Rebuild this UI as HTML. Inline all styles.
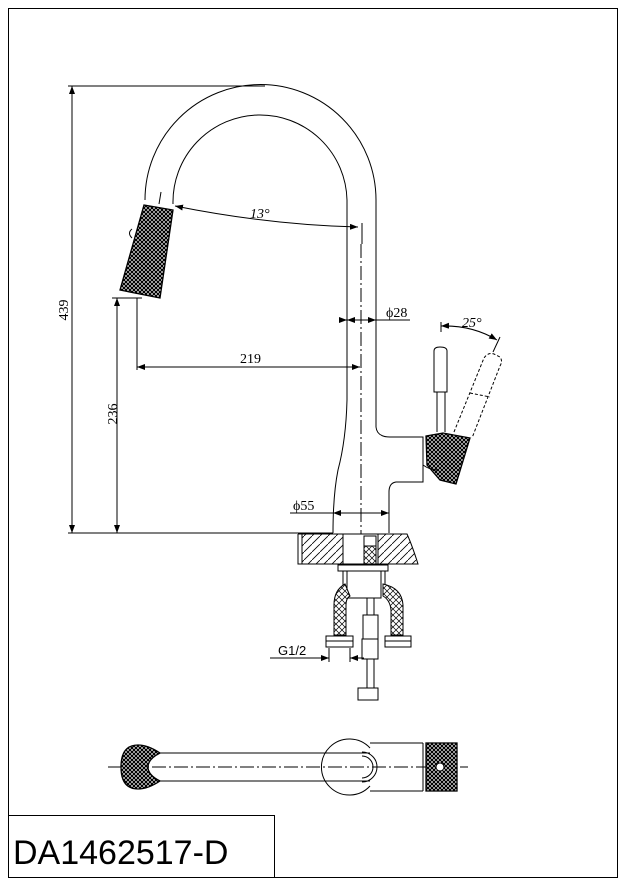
<!DOCTYPE html>
<html><head><meta charset="utf-8"><style>
html,body{margin:0;padding:0;background:#fff}
svg{display:block}
text{font-family:"Liberation Serif",serif;fill:#000}
</style></head><body>
<svg width="626" height="886" viewBox="0 0 626 886" xmlns="http://www.w3.org/2000/svg">
<defs>
<pattern id="kn" width="4" height="4" patternUnits="userSpaceOnUse">
<rect width="4" height="4" fill="#fff"/>
<path d="M0 0L4 4M4 0L0 4" stroke="#000" stroke-width="1.3"/>
</pattern>
<pattern id="hx" width="8" height="8" patternUnits="userSpaceOnUse">
<rect width="8" height="8" fill="#fff"/>
<path d="M0 8L8 0" stroke="#000" stroke-width="0.8"/>
</pattern>
<pattern id="hs" width="6" height="6" patternUnits="userSpaceOnUse">
<rect width="6" height="6" fill="#fff"/>
<path d="M0 0L6 6M6 0L0 6" stroke="#000" stroke-width="0.7"/>
</pattern>
<marker id="a" markerWidth="8" markerHeight="6" refX="8" refY="3" orient="auto-start-reverse" markerUnits="userSpaceOnUse"><path d="M0 0L8 3L0 6z" fill="#000"/></marker>
</defs>
<g fill="none" stroke="#000" stroke-width="1">
<rect x="8.5" y="8.5" width="609" height="869"/>
<rect x="8.5" y="815.5" width="266" height="62"/>
<path d="M145 200 A115 115 0 0 1 376 200 L376 427 Q377 437 390 437 L423 437 L423 482 L396 482 Q389 483 389 492 L389 533"/>
<path d="M173 204 A87 87 0 0 1 347 200 L347 400 Q346 440 338 470 Q333 495 333 533"/>
<polygon points="144,205 173,210 160,298 120,290" fill="url(#kn)" stroke-width="1.3"/>
<path d="M132 229 q-5 4 0 9"/>
<path d="M175 206 Q270 225 358 227" marker-start="url(#a)" marker-end="url(#a)"/>
<line x1="161" y1="192" x2="159" y2="204"/>
<line x1="362" y1="223" x2="362" y2="244"/>
<line x1="361" y1="244" x2="361" y2="565" stroke-dasharray="14 3 2 3"/>
<line x1="68" y1="86" x2="265" y2="86"/>
<line x1="68" y1="533" x2="333" y2="533"/>
<line x1="72" y1="86" x2="72" y2="533" marker-start="url(#a)" marker-end="url(#a)"/>
<line x1="112" y1="298" x2="142" y2="298"/>
<line x1="117" y1="298" x2="117" y2="533" marker-start="url(#a)" marker-end="url(#a)"/>
<line x1="137" y1="298" x2="137" y2="370"/>
<line x1="137" y1="367" x2="360" y2="367" marker-start="url(#a)" marker-end="url(#a)"/>
<line x1="340" y1="320" x2="347" y2="320" marker-end="url(#a)"/>
<line x1="347" y1="320" x2="376" y2="320" marker-start="url(#a)" marker-end="url(#a)"/>
<line x1="376" y1="320" x2="410" y2="320"/>
<line x1="290" y1="513" x2="389" y2="513" marker-end="url(#a)"/>
<line x1="333" y1="513" x2="345" y2="513" marker-start="url(#a)"/>
<path d="M434 392 L434 351 Q434 347 440 347 Q447 347 447 351 L447 392 Z"/>
<line x1="437" y1="392" x2="437" y2="432"/><line x1="445" y1="392" x2="445" y2="432"/>
<polygon points="426,436 443,433 470,438 456,484 440,480 427,465" fill="url(#kn)" stroke-width="1.3"/>
<path d="M423 465 Q430 470 437 470"/>
<g stroke-dasharray="3 2">
<path d="M454 432 L484 358 Q488 352 494 354 L500 357 Q503 361 500 366 L472 438"/>
<line x1="470" y1="393" x2="490" y2="397"/>
</g>
<line x1="441" y1="322" x2="441" y2="332"/>
<line x1="500" y1="337" x2="493" y2="352"/>
<path d="M441 326 Q472 325 497 340" marker-start="url(#a)" marker-end="url(#a)"/>
<path d="M302 534 L343 534 L343 564 L302 564 Z" fill="url(#hx)"/>
<path d="M378 534 L407 534 Q412 545 418 564 L378 564 Z" fill="url(#hx)"/>
<path d="M298 534 L302 534 M298 534 L298 564 L302 564"/>
<rect x="343" y="534" width="35" height="30" fill="#fff"/>
<rect x="364" y="536" width="12" height="10"/>
<rect x="364" y="546" width="12" height="18" fill="url(#hs)"/>
<rect x="338" y="565" width="50" height="6"/>
<rect x="347" y="571" width="34" height="27"/>
<line x1="343" y1="571" x2="343" y2="590"/><line x1="385" y1="571" x2="385" y2="590"/>
<path d="M345 584 Q334 590 334 605 L334 635 L346 635 L346 605 Q346 598 350 596 Z" fill="url(#hs)"/>
<path d="M383 584 Q402 588 403 605 L403 635 L391 635 L391 610 Q390 600 383 596 Z" fill="url(#hs)"/>
<path d="M326 636 h27 v11 h-27 z M326 641 h27"/>
<path d="M385 636 h26 v11 h-26 z M385 641 h26"/>
<line x1="367" y1="598" x2="367" y2="690"/><line x1="374" y1="598" x2="374" y2="690"/>
<rect x="363" y="615" width="15" height="24" fill="#fff"/>
<rect x="362" y="639" width="16" height="20" fill="#fff"/>
<rect x="358" y="688" width="20" height="12" fill="#fff"/>
<line x1="270" y1="658" x2="329" y2="658" marker-end="url(#a)"/>
<line x1="350" y1="658" x2="364" y2="658" marker-start="url(#a)"/>
<line x1="329" y1="648" x2="329" y2="662"/><line x1="350" y1="648" x2="350" y2="662"/>
<line x1="108" y1="767" x2="468" y2="767" stroke-dasharray="14 3 2 3"/>
<line x1="158" y1="753" x2="370" y2="753"/><line x1="158" y1="781" x2="370" y2="781"/>
<path d="M160 753 Q148 745 138 745 Q121 745 121 767 Q121 789 138 789 Q148 789 160 781 Q148 775 148 767 Q148 759 160 753 Z" fill="url(#kn)" stroke-width="1.3"/>
<path d="M370 748 A28 28 0 1 0 370 786"/>
<path d="M362 752 A15 15 0 1 1 362 782"/>
<path d="M362 756 A11 11 0 1 1 362 778"/>
<line x1="370" y1="743" x2="423" y2="743"/><line x1="370" y1="791" x2="423" y2="791"/>
<line x1="423" y1="743" x2="423" y2="791"/>
<rect x="426" y="743" width="31" height="48" fill="url(#kn)" stroke-width="1.3"/>
<circle cx="440" cy="767" r="4" fill="#fff"/>
</g>
<text font-size="14" transform="translate(68 310) rotate(-90)" text-anchor="middle">439</text>
<text font-size="14" transform="translate(117 414) rotate(-90)" text-anchor="middle">236</text>
<text x="240" y="363" font-size="14">219</text>
<text x="386" y="317" font-size="14">ϕ28</text>
<text x="293" y="510" font-size="14">ϕ55</text>
<text x="250" y="218" font-size="14" font-style="italic">13°</text>
<text x="462" y="327" font-size="14" font-style="italic">25°</text>
<text x="278" y="655" font-size="13" style="font-family:'Liberation Sans',sans-serif">G1/2</text>
<text x="13" y="864" font-size="34" style="font-family:'Liberation Sans',sans-serif">DA1462517-D</text>
</svg>
</body></html>
